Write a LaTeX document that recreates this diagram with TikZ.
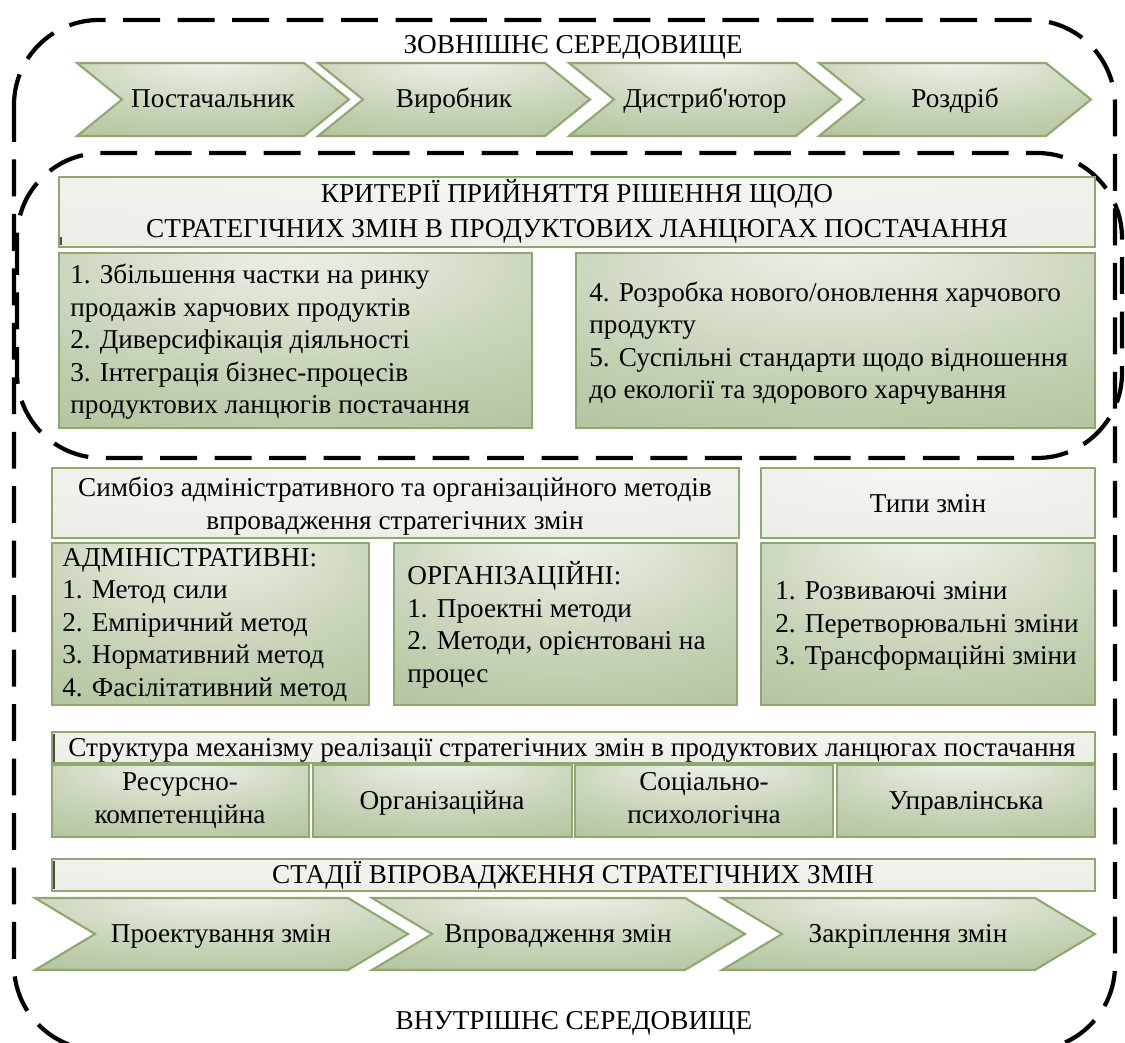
\documentclass[tikz,border=0pt]{standalone}
\usepackage{fontspec}
\setmainfont{Liberation Serif}
\definecolor{gedge}{RGB}{148,170,116}
\definecolor{gmid}{RGB}{196,209,180}
\definecolor{gtop}{RGB}{240,243,237}
\definecolor{gline}{RGB}{143,168,112}
\definecolor{hedge}{RGB}{226,232,220}
\definecolor{htop}{RGB}{245,247,243}
\pgfdeclareradialshading{greenglow}{\pgfpoint{0bp}{30bp}}{color(0bp)=(gtop); color(30bp)=(gmid); color(75bp)=(gedge)}
\pgfdeclareradialshading{headglow}{\pgfpoint{0bp}{30bp}}{color(0bp)=(htop); color(75bp)=(hedge)}
\tikzset{
  envline/.style={line width=2.4pt, dash pattern=on 21pt off 10pt, rounded corners=1.7cm},
  greenbox/.style={draw=gline, line width=1.2pt, shading=greenglow},
  headbox/.style={draw=gline, line width=1.2pt, shading=headglow},
  tick/.style={line width=0.7pt, black!70},
  txt/.style={font=\fontsize{15.5}{18.5}\selectfont, inner sep=0pt,
    execute at begin node=\strut, execute at end node=\strut},
  listtxt/.style={txt, align=left, anchor=west},
  midtxt/.style={txt, align=center}
}
\begin{document}
\begin{tikzpicture}[x=0.02cm, y=-0.02cm]
    \useasboundingbox (0,0) rectangle (1125,1043);
    % environment outlines
    \draw[envline] (14,20) rectangle (1115,1050);
    \draw[envline] (17,153) rectangle (1122,458);
    \node[midtxt] (outer) at (573,47) {ЗОВНІШНЄ СЕРЕДОВИЩЕ};
    \node[midtxt] (inner) at (574,1023) {ВНУТРІШНЄ СЕРЕДОВИЩЕ};
    % supply chain
    \draw[greenbox] (77,63) -- (304,63) -- (349,99.5) -- (304,136) -- (77,136) -- (122,99.5) -- cycle;
    \draw[greenbox] (318,63) -- (545,63) -- (590,99.5) -- (545,136) -- (318,136) -- (363,99.5) -- cycle;
    \draw[greenbox] (569,63) -- (796,63) -- (841,99.5) -- (796,136) -- (569,136) -- (614,99.5) -- cycle;
    \draw[greenbox] (819,63) -- (1046,63) -- (1091,99.5) -- (1046,136) -- (819,136) -- (864,99.5) -- cycle;
    \node[midtxt] (supplier) at (213,101) {Постачальник};
    \node[midtxt] (producer) at (454,101) {Виробник};
    \node[midtxt] (distrib) at (705,101) {Дистриб\textquotesingle ютор};
    \node[midtxt] (retail) at (955,101) {Роздріб};
    % criteria
    \draw[headbox] (59,177) rectangle (1095,247);
    \draw[tick] (61,237) -- (61,245);
    \node[midtxt, font=\fontsize{15.5}{20}\selectfont] (crithead) at (577,214) {КРИТЕРІЇ ПРИЙНЯТТЯ РІШЕННЯ ЩОДО\\СТРАТЕГІЧНИХ ЗМІН В ПРОДУКТОВИХ ЛАНЦЮГАХ ПОСТАЧАННЯ};
    \draw[greenbox] (59,253) rectangle (532,428);
    \draw[greenbox] (576,253) rectangle (1095,428);
    \node[listtxt] (critA) at (70,344) {1. Збільшення частки на ринку\\продажів харчових продуктів\\2. Диверсифікація діяльності\\3. Інтеграція бізнес-процесів\\продуктових ланцюгів постачання};
    \node[listtxt] (critB) at (589,345) {4. Розробка нового/оновлення харчового\\продукту\\5. Суспільні стандарти щодо відношення\\до екології та здорового харчування};
    % methods and types
    \draw[headbox] (52,468) rectangle (739,538);
    \draw[headbox] (761,468) rectangle (1095,538);
    \node[midtxt] (methhead) at (395,508) {Симбіоз адміністративного та організаційного методів\\впровадження стратегічних змін};
    \node[midtxt] (typehead) at (928,506) {Типи змін};
    \draw[greenbox] (52,543) rectangle (369,705);
    \draw[greenbox] (394,543) rectangle (737,705);
    \draw[greenbox] (761,543) rectangle (1095,705);
    \node[listtxt] (admin) at (62,627) {АДМІНІСТРАТИВНІ:\\1. Метод сили\\2. Емпіричний метод\\3. Нормативний метод\\4. Фасілітативний метод};
    \node[listtxt] (organ) at (407,627) {ОРГАНІЗАЦІЙНІ:\\1. Проектні методи\\2. Методи, орієнтовані на\\процес};
    \node[listtxt] (types) at (775,628) {1. Розвиваючі зміни\\2. Перетворювальні зміни\\3. Трансформаційні зміни};
    % mechanism structure
    \draw[headbox] (52,732) rectangle (1095,763);
    \draw[tick] (54,734) -- (54,762);
    \node[midtxt] (mechhead) at (572,750) {Структура механізму реалізації стратегічних змін в продуктових ланцюгах постачання};
    \draw[greenbox] (52,765) rectangle (309,837);
    \draw[greenbox] (313,765) rectangle (572,837);
    \draw[greenbox] (575,765) rectangle (833,837);
    \draw[greenbox] (837,765) rectangle (1095,837);
    \node[midtxt] (resource) at (180,803) {Ресурсно-\\компетенційна};
    \node[midtxt] (orgpart) at (442,803) {Організаційна};
    \node[midtxt] (social) at (704,803) {Соціально-\\психологічна};
    \node[midtxt] (manage) at (966,803) {Управлінська};
    % stages
    \draw[headbox] (52,859) rectangle (1095,891);
    \draw[tick] (54,861) -- (54,889);
    \node[midtxt] (stagehead) at (573,877) {СТАДІЇ ВПРОВАДЖЕННЯ СТРАТЕГІЧНИХ ЗМІН};
    \draw[greenbox] (35,898) -- (348,898) -- (408,934) -- (348,970) -- (35,970) -- (95,934) -- cycle;
    \draw[greenbox] (372,898) -- (685,898) -- (745,934) -- (685,970) -- (372,970) -- (432,934) -- cycle;
    \draw[greenbox] (722,898) -- (1035,898) -- (1095,934) -- (1035,970) -- (722,970) -- (782,934) -- cycle;
    \node[midtxt] (design) at (221,936) {Проектування змін};
    \node[midtxt] (implement) at (558,936) {Впровадження змін};
    \node[midtxt] (fix) at (908,936) {Закріплення змін};
\end{tikzpicture}
\end{document}
